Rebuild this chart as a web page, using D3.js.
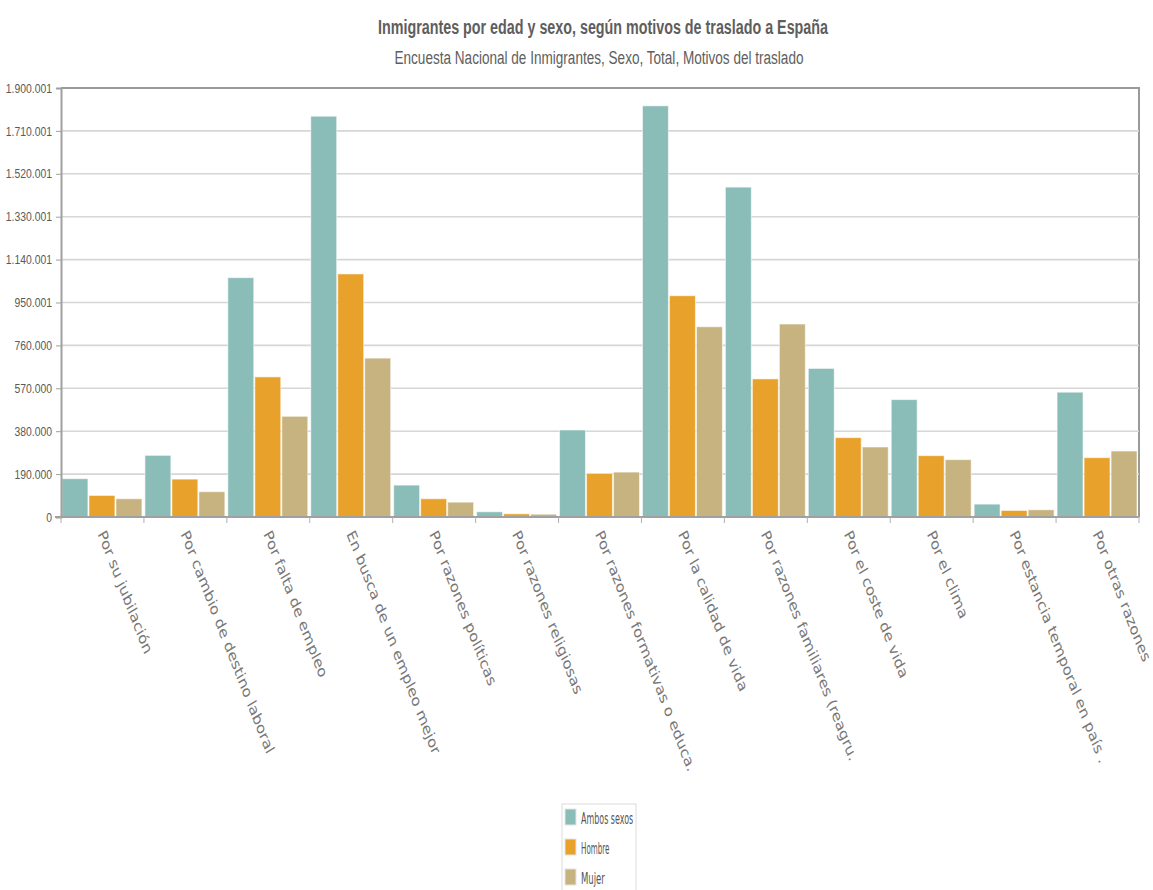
<!DOCTYPE html>
<html>
<head>
<meta charset="utf-8">
<script src="https://cdn.jsdelivr.net/npm/d3@7"></script>
<style>
  html, body { margin: 0; padding: 0; background: #fff; }
  svg { display: block; }
</style>
</head>
<body>
<svg id="chart" width="1153" height="890"></svg>
<script>
// Motivos del traslado (categorías del eje X)
const categories = [
  "Por su jubilación",
  "Por cambio de destino laboral",
  "Por falta de empleo",
  "En busca de un empleo mejor",
  "Por razones políticas",
  "Por razones religiosas",
  "Por razones formativas o educa.",
  "Por la calidad de vida",
  "Por razones familiares (reagru.",
  "Por el coste de vida",
  "Por el clima",
  "Por estancia temporal en país .",
  "Por otras razones"
];

const seriesNames = ["Ambos sexos", "Hombre", "Mujer"];

// Inmigrantes por motivo, en el mismo orden que categories
const ambosSexos = [169600, 273000, 1060000, 1775000, 141200, 23100, 385300, 1821000, 1461000, 658000, 520000, 57000, 552700];
const hombre     = [95400, 167800, 620600, 1076500, 80800, 14200, 193100, 980000, 611700, 351600, 271700, 29000, 262800];
const mujer      = [80800, 111900, 446000, 703600, 65700, 12400, 198900, 842600, 854600, 310000, 254000, 32000, 292100];

const tickValues = [0, 190000, 380000, 570000, 760000, 950001, 1140001, 1330001, 1520001, 1710001, 1900001];
const tickLabels = ["0", "190.000", "380.000", "570.000", "760.000", "950.001", "1.140.001", "1.330.001", "1.520.001", "1.710.001", "1.900.001"];

const titleText = "Inmigrantes por edad y sexo, según motivos de traslado a España";
const subtitleText = "Encuesta Nacional de Inmigrantes, Sexo, Total, Motivos del traslado";

const colors = ["#8bbdb8", "#e8a22b", "#c6b37f"];
const seriesValues = [ambosSexos, hombre, mujer];

const svg = d3.select("#chart");
const plot = { left: 61, right: 1139, top: 88, bottom: 517 };
const SX = 0.8;          // horizontal squeeze applied to the text
const textGray = "#5a5a5a";

const y = d3.scaleLinear().domain([0, 1900001]).range([plot.bottom, plot.top]);
const x0 = d3.scaleBand().domain(categories).range([plot.left, plot.right]);
const x1 = d3.scaleBand().domain(seriesNames).range([1, x0.bandwidth() - 2]).paddingInner(0.04);

// Titles
svg.append("text")
  .attr("x", 603).attr("y", 34)
  .attr("text-anchor", "middle")
  .attr("font-family", "Liberation Sans, Arial, sans-serif")
  .attr("font-weight", "bold").attr("font-size", 20)
  .attr("fill", "#5e5e5e")
  .attr("textLength", 450).attr("lengthAdjust", "spacingAndGlyphs")
  .text(titleText);

svg.append("text")
  .attr("x", 599).attr("y", 64)
  .attr("text-anchor", "middle")
  .attr("font-family", "Liberation Sans, Arial, sans-serif")
  .attr("font-size", 18)
  .attr("fill", "#5e5e5e")
  .attr("textLength", 409).attr("lengthAdjust", "spacingAndGlyphs")
  .text(subtitleText);

// Soft shadows for frame and axes
const defs = svg.append("defs");
const blur = defs.append("filter").attr("id", "soft").attr("x", "-5%").attr("y", "-50%").attr("width", "110%").attr("height", "200%");
blur.append("feGaussianBlur").attr("stdDeviation", 1.2);

const frame = svg.append("g");
frame.append("line")
  .attr("x1", plot.left).attr("x2", plot.right + 2)
  .attr("y1", plot.bottom + 3).attr("y2", plot.bottom + 3)
  .attr("stroke", "#cfcfcf").attr("stroke-width", 3).attr("filter", "url(#soft)");
frame.append("line")
  .attr("x1", plot.right + 3).attr("x2", plot.right + 3)
  .attr("y1", plot.top + 2).attr("y2", plot.bottom + 2)
  .attr("stroke", "#d5d5d5").attr("stroke-width", 3).attr("filter", "url(#soft)");
frame.append("line")
  .attr("x1", plot.left).attr("x2", plot.right + 2)
  .attr("y1", plot.top + 2).attr("y2", plot.top + 2)
  .attr("stroke", "#dcdcdc").attr("stroke-width", 2).attr("filter", "url(#soft)");

// Gridlines
svg.append("g")
  .selectAll("line")
  .data(tickValues.slice(1, -1))
  .join("line")
  .attr("x1", plot.left).attr("x2", plot.right)
  .attr("y1", d => y(d)).attr("y2", d => y(d))
  .attr("stroke", "#d6d6d6").attr("stroke-width", 1.6);

// Bars
const groups = svg.append("g")
  .selectAll("g")
  .data(categories)
  .join("g")
  .attr("transform", d => `translate(${x0(d)},0)`);

groups.selectAll("rect")
  .data((c, i) => seriesNames.map((s, k) => ({ s, k, v: seriesValues[k][i] })))
  .join("rect")
  .attr("x", d => x1(d.s))
  .attr("width", x1.bandwidth())
  .attr("y", d => y(d.v))
  .attr("height", d => y(0) - y(d.v))
  .attr("fill", d => colors[d.k])
  .attr("stroke", "rgba(255,255,255,0.55)")
  .attr("stroke-width", 1);

// Frame: top and right borders
frame.append("line")
  .attr("x1", plot.left).attr("x2", plot.right + 1)
  .attr("y1", plot.top).attr("y2", plot.top)
  .attr("stroke", "#9a9a9a").attr("stroke-width", 2);
frame.append("line")
  .attr("x1", plot.right).attr("x2", plot.right)
  .attr("y1", plot.top).attr("y2", plot.bottom)
  .attr("stroke", "#9a9a9a").attr("stroke-width", 2);

// Y axis
const yAxis = svg.append("g").attr("transform", `translate(${plot.left},0)`)
  .call(d3.axisLeft(y).tickValues(tickValues).tickFormat((d, i) => tickLabels[i]).tickSize(5).tickPadding(4));
yAxis.select(".domain").attr("stroke", "#a0a0a0").attr("stroke-width", 2);
yAxis.selectAll(".tick line").attr("stroke", "#a0a0a0");
yAxis.selectAll(".tick text")
  .attr("font-family", "Liberation Sans, Arial, sans-serif")
  .attr("font-size", 13)
  .attr("fill", textGray)
  .attr("transform", `scale(${SX},1)`)
  .attr("x", -9 / SX);

// X axis
const boundaries = categories.map(c => x0(c)).concat([plot.right]);
svg.append("line")
  .attr("x1", plot.left - 6).attr("x2", plot.right)
  .attr("y1", plot.bottom).attr("y2", plot.bottom)
  .attr("stroke", "#a0a0a0").attr("stroke-width", 2);
svg.append("g")
  .selectAll("line")
  .data(boundaries)
  .join("line")
  .attr("x1", d => d).attr("x2", d => d)
  .attr("y1", plot.bottom).attr("y2", plot.bottom + 6)
  .attr("stroke", "#b0b0b0");

svg.append("g")
  .selectAll("text")
  .data(categories)
  .join("text")
  .attr("transform", d => `translate(${x0(d) + x0.bandwidth() / 2 - 5},${plot.bottom + 17}) scale(${SX},1) rotate(64)`)
  .attr("font-family", "DejaVu Sans, Verdana, sans-serif")
  .attr("font-size", 16.5)
  .attr("fill", "#777")
  .text(d => d);

// Legend
const legend = svg.append("g").attr("transform", "translate(562,804)");
legend.append("rect")
  .attr("x", 0).attr("y", 0).attr("width", 74).attr("height", 100)
  .attr("fill", "#fff").attr("stroke", "#dcdcdc");
const items = legend.selectAll("g")
  .data(seriesNames)
  .join("g")
  .attr("transform", (d, i) => `translate(0,${i * 30})`);
items.append("rect")
  .attr("x", 3).attr("y", 5).attr("width", 11).attr("height", 16)
  .attr("fill", (d, i) => colors[i])
  .attr("stroke", "#e4e4e4");
items.append("text")
  .attr("x", 19).attr("y", 20)
  .attr("font-family", "DejaVu Sans, Verdana, sans-serif")
  .attr("font-size", 15)
  .attr("fill", "#555")
  .attr("textLength", (d) => d.length * 4.75)
  .attr("lengthAdjust", "spacingAndGlyphs")
  .text(d => d);
</script>
</body>
</html>
